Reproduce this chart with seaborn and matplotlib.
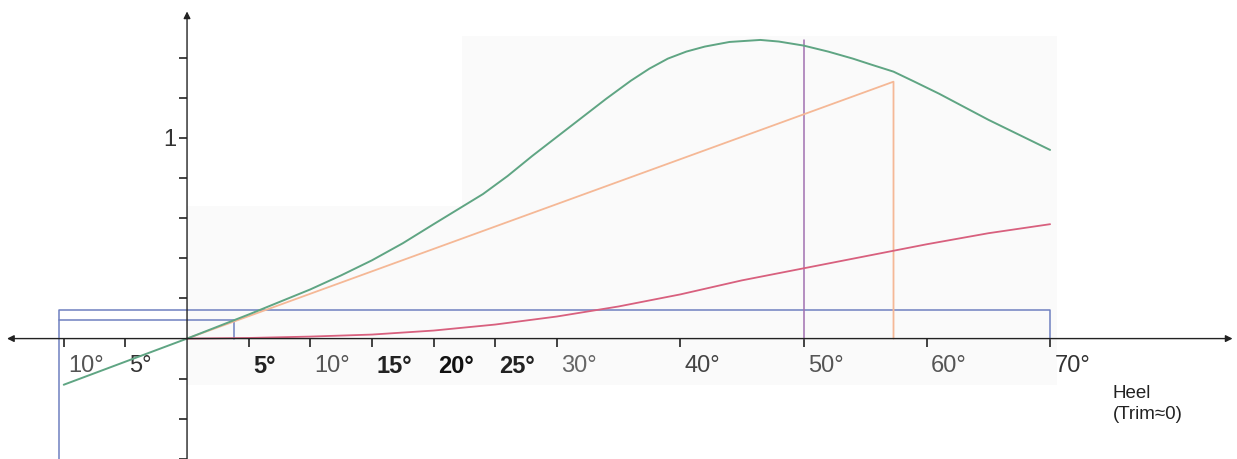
import numpy as np
import pandas as pd
import matplotlib
matplotlib.use("Agg")
import matplotlib.pyplot as plt
import matplotlib.transforms as mtransforms
import seaborn as sns

# GZ curve (righting lever), heel in degrees
gz_heel = [-10, -5, 0, 5, 10, 12.5, 15, 17.5, 20, 22, 24, 26, 28, 30, 32, 34, 36, 37.5, 39, 40.5,
           42, 44, 46.5, 48, 50, 52, 54, 55.5, 57.3, 59, 61, 63, 65, 67.5, 70]
gz_value = [-0.23, -0.115, 0, 0.12, 0.245, 0.315, 0.39, 0.475, 0.57, 0.645, 0.72, 0.81, 0.91, 1.005, 1.10,
            1.195, 1.285, 1.345, 1.395, 1.43, 1.455, 1.478, 1.488, 1.48, 1.46, 1.43, 1.395, 1.365, 1.33,
            1.28, 1.22, 1.155, 1.09, 1.015, 0.94]

# lower (red) curve
red_heel = [0, 5, 10, 15, 20, 25, 30, 35, 40, 45, 50, 55, 60, 65, 70]
red_value = [0, 0.003, 0.01, 0.02, 0.04, 0.07, 0.11, 0.16, 0.22, 0.29, 0.35, 0.41, 0.47, 0.525, 0.57]

# GM tangent: from origin to 1 rad (57.3 deg), then drop
gm_heel = [0, 57.3, 57.3]
gm_value = [0, 1.28, 0]

# vertical marker at 50 deg
mark_heel = [50, 50]
mark_value = [0, 1.49]

# blue boxes (heeling arm)
box_outer_x = [-10.4, -10.4, 70, 70]
box_outer_y = [-0.6, 0.14, 0.14, 0]
box_inner_x = [-10.4, 3.8, 3.8]
box_inner_y = [0.095, 0.095, 0]

xtick_pos = [-10, -5, 5, 10, 15, 20, 25, 30, 40, 50, 60, 70]
xtick_text = ["10°", "5°", "5°", "10°", "15°", "20°", "25°", "30°", "40°", "50°", "60°", "70°"]
xtick_weight = ["normal", "normal", "bold", "normal", "bold", "bold", "bold", "normal", "normal", "normal", "normal", "normal"]
xtick_color = ["#555555", "#333333", "#222222", "#555555", "#222222", "#111111", "#222222", "#666666", "#444444",
               "#555555", "#555555", "#333333"]
ytick_pos = [-0.6, -0.4, -0.2, 0.2, 0.4, 0.6, 0.8, 1.0, 1.2, 1.4]
ytick_text = ["", "", "", "", "", "", "", "1", "", ""]

# faint grey patches from the scan
shade_x0 = [22.3, 0]
shade_x1 = [70.6, 22.3]
shade_top = [1.51, 0.66]

sns.set_theme(style="white")
plt.rcParams["font.family"] = ["Liberation Sans", "DejaVu Sans"]

fig = plt.figure(figsize=(12.37, 4.59), dpi=100)
ax = fig.add_axes([0, 0, 1, 1])
ax.set_xlim(-15.17, 85.16)
ax.set_ylim(-0.597, 1.687)

for x0, x1, top in zip(shade_x0, shade_x1, shade_top):
    ax.fill_between([x0, x1], -0.23, top, color="#fafafa", lw=0, zorder=0)

sns.lineplot(x=box_outer_x, y=box_outer_y, sort=False, estimator=None, color="#6f80c0", lw=1.1, ax=ax)
sns.lineplot(x=box_inner_x, y=box_inner_y, sort=False, estimator=None, color="#6f80c0", lw=1.1, ax=ax)
sns.lineplot(x=mark_heel, y=mark_value, sort=False, estimator=None, color="#a070b0", lw=1.1, ax=ax)
sns.lineplot(x=gm_heel, y=gm_value, sort=False, estimator=None, color="#f5b896", lw=1.3, ax=ax)
sns.lineplot(x=red_heel, y=red_value, sort=False, estimator=None, color="#d8607e", lw=1.3, ax=ax)
sns.lineplot(x=gz_heel, y=gz_value, sort=False, estimator=None, color="#5fa583", lw=1.4, ax=ax)

# axes with arrow heads
ax.annotate("", xy=(84.8, 0), xytext=(-14.6, 0),
            arrowprops=dict(arrowstyle="<|-|>", color="#222222", lw=1.0, mutation_scale=10, shrinkA=0, shrinkB=0))
ax.annotate("", xy=(0, 1.63), xytext=(0, -0.6),
            arrowprops=dict(arrowstyle="-|>", color="#222222", lw=1.0, mutation_scale=10, shrinkA=0, shrinkB=0))

for side in ["top", "right", "left", "bottom"]:
    ax.spines[side].set_visible(False)
ax.spines["bottom"].set_position(("data", 0))
ax.spines["left"].set_position(("data", 0))

ax.set_xticks(xtick_pos)
ax.set_xticklabels(xtick_text, fontsize=17, ha="left")
ax.set_yticks(ytick_pos)
ax.set_yticklabels(ytick_text, fontsize=17, color="#333333")
ax.tick_params(axis="x", direction="out", length=6, width=1.2, color="#222222", pad=6, bottom=True)
ax.tick_params(axis="y", direction="out", length=6, width=1.2, color="#222222", pad=2, left=True)

shift = mtransforms.ScaledTranslation(3 / 72, 0, fig.dpi_scale_trans)
for lab, w, c in zip(ax.get_xticklabels(), xtick_weight, xtick_color):
    lab.set_fontweight(w)
    lab.set_color(c)
    lab.set_transform(lab.get_transform() + shift)

ax.text(75.1, -0.23, "Heel\n(Trim≈0)", fontsize=13.5, color="#222222", va="top", ha="left", linespacing=1.35)

ax.grid(False)
ax.set_xlabel("")
ax.set_ylabel("")
fig.savefig("out.png", dpi=100, facecolor="white")
